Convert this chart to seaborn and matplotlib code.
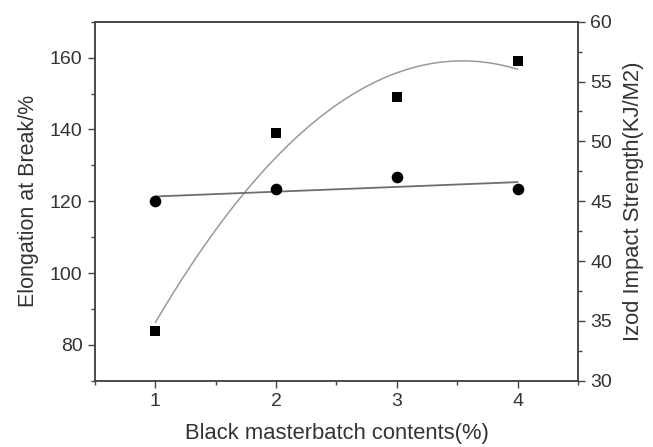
import numpy as np
import pandas as pd
import seaborn as sns
import matplotlib.pyplot as plt
from matplotlib.ticker import MultipleLocator

# Data
content = [1, 2, 3, 4]
elongation = [84, 139, 149, 159]      # left axis, squares
impact = [45, 46, 47, 46]             # right axis, circles

df = pd.DataFrame({"content": content, "elongation": elongation, "impact": impact})

sns.set_style("ticks")
plt.rcParams['font.family'] = ['Liberation Sans', 'DejaVu Sans']
plt.rcParams['axes.edgecolor'] = '#444444'
plt.rcParams['xtick.color'] = '#444444'
plt.rcParams['ytick.color'] = '#444444'
plt.rcParams['xtick.labelcolor'] = '#333333'
plt.rcParams['ytick.labelcolor'] = '#333333'
plt.rcParams['axes.labelcolor'] = '#333333'

fig = plt.figure(figsize=(6.53, 4.47), dpi=100)
ax = fig.add_axes([0.1455, 0.148, 0.7395, 0.8035])
ax2 = ax.twinx()

# Elongation: squares with quadratic fit
sns.regplot(data=df, x="content", y="elongation", order=2, ci=None, ax=ax,
            marker="s", scatter_kws={"s": 50, "color": "black", "alpha": 1,
                                     "linewidths": 0, "zorder": 3},
            line_kws={"color": "#9a9a9a", "lw": 1.1})

# Impact strength: circles with linear fit
sns.regplot(data=df, x="content", y="impact", order=1, ci=None, ax=ax2,
            marker="o", scatter_kws={"s": 70, "color": "black", "alpha": 1,
                                     "linewidths": 0, "zorder": 3},
            line_kws={"color": "#6e6e6e", "lw": 1.3})

ax.set_xlim(0.5, 4.5)
ax.set_ylim(70, 170)
ax2.set_ylim(30, 60)

ax.xaxis.set_major_locator(MultipleLocator(1))
ax.xaxis.set_minor_locator(MultipleLocator(0.5))
ax.yaxis.set_major_locator(MultipleLocator(20))
ax.yaxis.set_minor_locator(MultipleLocator(10))
ax2.yaxis.set_major_locator(MultipleLocator(5))
ax2.yaxis.set_minor_locator(MultipleLocator(2.5))
ax.set_yticks([80, 100, 120, 140, 160])

for a in (ax, ax2):
    a.tick_params(which='major', direction='out', length=5, width=1,
                  labelsize=14, pad=4)
    a.tick_params(which='minor', direction='out', length=3, width=1)
    for s in a.spines.values():
        s.set_visible(True)
        s.set_linewidth(1.1)
        s.set_color('#444444')

ax.set_xlabel("Black masterbatch contents(%)", fontsize=15.8, labelpad=9)
ax.set_ylabel("Elongation at Break/%", fontsize=15.5, labelpad=8)
ax2.set_ylabel("Izod Impact Strength(KJ/M2)", fontsize=15.8, labelpad=8)

fig.savefig("out.png", dpi=100)
